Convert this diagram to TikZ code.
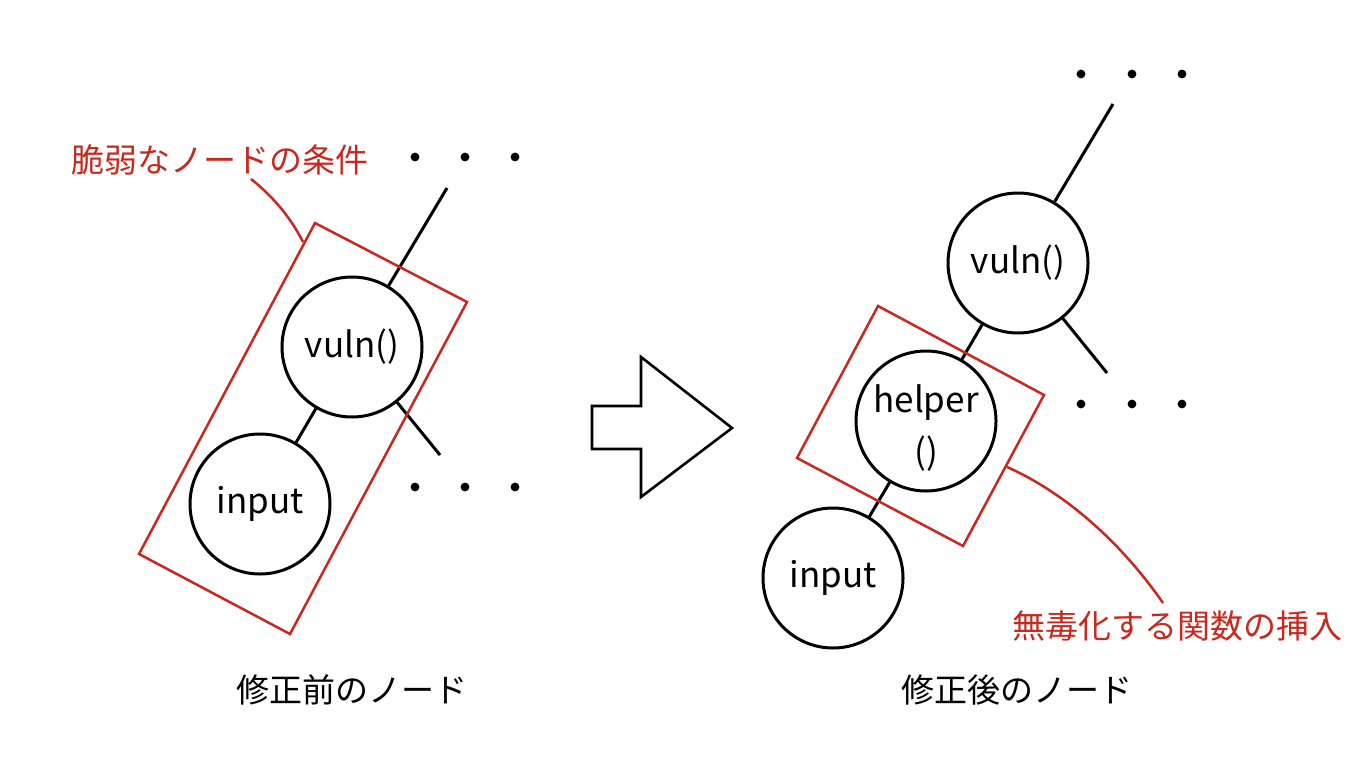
\documentclass[tikz,border=0pt]{standalone}
\usepackage{fontspec}
\setmainfont{Noto Sans CJK JP}
\definecolor{markred}{RGB}{200,40,30}
\tikzset{
  fnode/.style={circle,draw,line width=1.5pt,minimum size=70pt,inner sep=0pt,
    font=\fontsize{17.5}{20}\selectfont},
  link/.style={line width=1.5pt},
  condbox/.style={draw=markred,line width=1.25pt},
  redlabel/.style={text=markred,font=\fontsize{16.5}{18}\selectfont},
  caption/.style={font=\fontsize{16.5}{18}\selectfont}
}
\begin{document}
\begin{tikzpicture}[x=0.5pt,y=-0.5pt]
  \useasboundingbox (0,0) rectangle (1370,760);

  % before
  \path
  (447,188) coordinate (topA)
  (440,455) coordinate (botA)
  (315,223) coordinate (RA1)
  (467,302) coordinate (RA2)
  (290,634) coordinate (RA3)
  (139,554) coordinate (RA4)
  (251,179) coordinate (curA1)
  (303,242) coordinate (curA2);

  \node[fnode] (vulnA) at (352,347) {vuln()};
  \node[fnode] (inputA) at (260,504) {input};

  \draw[link] (vulnA)--(topA);
  \draw[link] (vulnA)--(botA);
  \draw[link] (vulnA)--(inputA);

  \foreach \dx in {0,50,100} {
    \fill (415+\dx,157) circle (2.2pt);
    \fill (415+\dx,487) circle (2.2pt);
  }

  \draw[condbox] (RA1)--(RA2)--(RA3)--(RA4)--cycle;
  \draw[condbox] (curA1) .. controls (275,198) and (292,220) .. (curA2);

  \node[redlabel] (condA) at (220,160) {脆弱なノードの条件};
  \node[caption] (capA) at (352,690) {修正前のノード};

  % arrow
  \draw[line width=1.3pt,line join=miter]
    (592,406)--(641,406)--(641,357)--(732,428)--(641,497)--(641,449)--(592,449)--cycle;

  % after
  \path
  (1113,104) coordinate (topB)
  (1107,373) coordinate (botB)
  (878,306) coordinate (RB1)
  (1044,395) coordinate (RB2)
  (963,546) coordinate (RB3)
  (797,458) coordinate (RB4)
  (1007,467) coordinate (curB1)
  (1163,603) coordinate (curB2);

  \node[fnode] (vulnB) at (1018,263) {vuln()};
  \node[fnode] (helperB) at (926,421)
    {\raisebox{-9pt}[0pt][0pt]{\begin{tabular}{@{}c@{}}helper\\[6pt]()\end{tabular}}};
  \node[fnode] (inputB) at (833,578) {input};

  \draw[link] (vulnB)--(topB);
  \draw[link] (vulnB)--(botB);
  \draw[link] (vulnB)--(helperB);
  \draw[link] (helperB)--(inputB);

  \foreach \dx in {0,51,101} {
    \fill (1081+\dx,74) circle (2.2pt);
    \fill (1081+\dx,404) circle (2.2pt);
  }

  \draw[condbox] (RB1)--(RB2)--(RB3)--(RB4)--cycle;
  \draw[condbox] (curB1) .. controls (1070,495) and (1125,548) .. (curB2);

  \node[redlabel] (condB) at (1177,626) {無毒化する関数の挿入};
  \node[caption] (capB) at (1017,690) {修正後のノード};
\end{tikzpicture}
\end{document}
